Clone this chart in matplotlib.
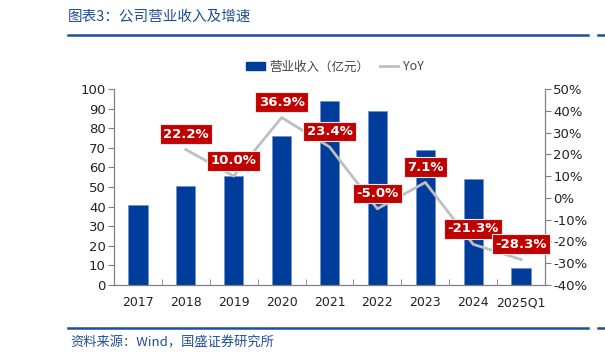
import matplotlib.pyplot as plt
import matplotlib.lines as mlines
import numpy as np

plt.rcParams['font.family'] = ['DejaVu Sans', 'Noto Sans CJK SC']

# data
years = ["2017", "2018", "2019", "2020", "2021", "2022", "2023", "2024", "2025Q1"]
revenue = [41.0, 50.5, 55.5, 76.0, 94.0, 89.0, 69.0, 54.0, 8.5]  # 亿元
yoy_years = years[1:]
yoy = [22.2, 10.0, 36.9, 23.4, -5.0, 7.1, -21.3, -28.3]  # %

left_ticks = list(range(0, 101, 10))
right_ticks = list(range(-40, 51, 10))

BLUE = "#003C9A"
HEAD = "#1F4E9A"
RED = "#C00000"
GRAY = "#BFBFBF"
AXC = "#7F7F7F"
TXT = "#222222"

fig = plt.figure(figsize=(6.05, 3.59), dpi=100)
ax = fig.add_axes([114 / 605, 1 - 285 / 359, 431 / 605, 196 / 359])
ax2 = ax.twinx()

x = np.arange(len(years))
ax.bar(x, revenue, width=0.4, color=BLUE, edgecolor="#6F8FD0", linewidth=0.5, zorder=2)
ax.set_xlim(-0.5, len(years) - 0.5)
ax.set_ylim(0, 100)
ax.set_yticks(left_ticks)
ax.set_xticks(x)
ax.set_xticklabels(years)
ax.set_xticks(np.arange(-0.5, len(years), 1.0), minor=True)
ax.tick_params(axis="x", which="major", length=0, pad=8, labelsize=9, colors=TXT)
ax.tick_params(axis="x", which="minor", direction="in", length=4, color=AXC)
ax.tick_params(axis="y", direction="out", length=4, color=AXC, labelsize=9.5, labelcolor=TXT, pad=2)

xi = [years.index(y) for y in yoy_years]
ax2.plot(xi, yoy, color=GRAY, lw=2, zorder=3)
ax2.set_ylim(-40, 50)
ax2.set_yticks(right_ticks)
ax2.set_yticklabels([f"{t}%" for t in right_ticks])
ax2.tick_params(axis="y", direction="out", length=4, color=AXC, labelsize=9.5, labelcolor=TXT, pad=2)

for xv, v in zip(xi, yoy):
    ax2.annotate(f"{v:.1f}%", (xv, v), xytext=(0, 11), textcoords="offset points",
                 ha="center", va="center", color="white", fontsize=9.5, fontweight="bold",
                 bbox=dict(boxstyle="square,pad=0.25", facecolor=RED, edgecolor="#E8E8E8", lw=0.8),
                 zorder=5)

for a in (ax, ax2):
    a.spines["top"].set_visible(False)
    for s in ("left", "right", "bottom"):
        a.spines[s].set_color(AXC)
ax.set_zorder(ax2.get_zorder() - 1)
ax.patch.set_visible(False)

# legend
h_bar = plt.Rectangle((0, 0), 1, 1, color=BLUE)
h_line = mlines.Line2D([], [], color=GRAY, lw=2)
leg = fig.legend([h_bar, h_line], ["营业收入（亿元）", "YoY"], loc="center",
                 bbox_to_anchor=(335 / 605, 1 - 67 / 359), ncol=2, frameon=False,
                 fontsize=9, handlelength=1.5, handleheight=0.6, columnspacing=0.8,
                 handletextpad=0.4)
for t in leg.get_texts():
    t.set_color("#444444")
    t.set_family(["Noto Sans CJK SC", "DejaVu Sans"])

# header / footer
fig.text(68 / 605, 1 - 17 / 359, "图表3：公司营业收入及增速", color=HEAD, fontsize=10.5,
         ha="left", va="center", family=["Noto Sans CJK SC", "DejaVu Sans"], style="italic")
fig.text(70 / 605, 1 - 343 / 359, "资料来源：Wind，国盛证券研究所", color=HEAD, fontsize=9.5,
         ha="left", va="center", family=["Noto Sans CJK SC", "DejaVu Sans"], style="italic")
for yy in (35, 328):
    fig.add_artist(mlines.Line2D([68 / 605, 588 / 605], [1 - yy / 359] * 2, color=HEAD, lw=1.8))
    fig.add_artist(mlines.Line2D([598 / 605, 1.0], [1 - yy / 359] * 2, color=HEAD, lw=1.8))

fig.savefig("out.png", dpi=100)
